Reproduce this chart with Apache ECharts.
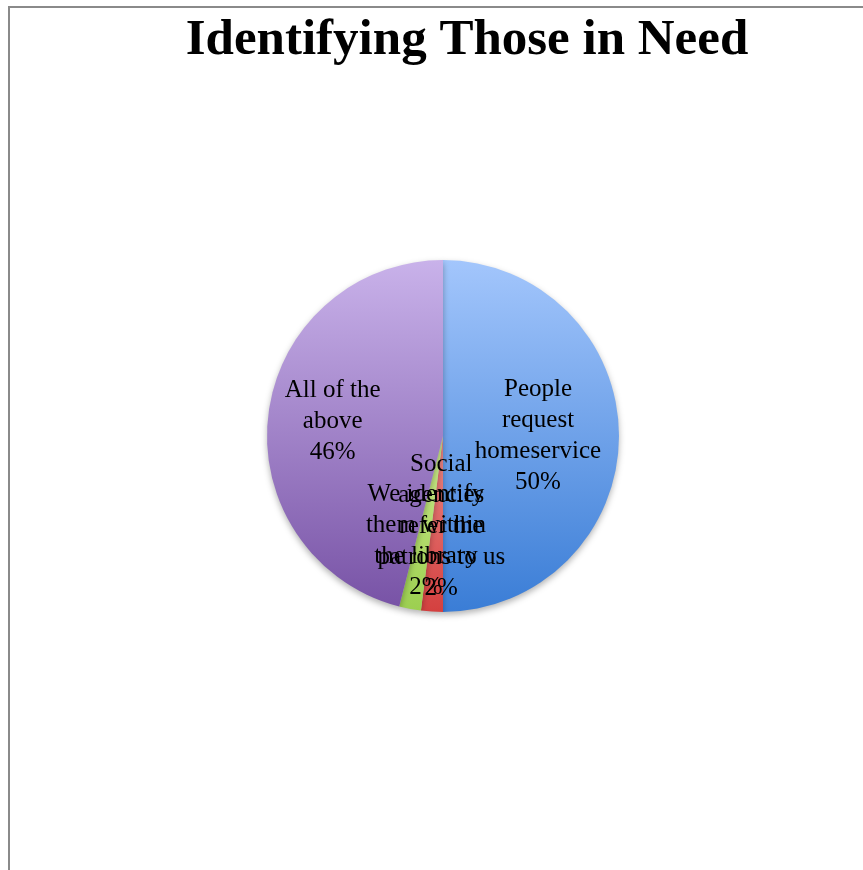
<!DOCTYPE html>
<html>
<head>
	<meta charset="utf-8">
	<script src="https://cdn.jsdelivr.net/npm/echarts@6/dist/echarts.min.js"></script>
	<style>
		body { margin: 0; background: #fff; }
	</style>
</head>
<body>
	<div id="main" style="width: 863px; height: 870px;"></div>
<script type="text/javascript">
        var categories = ['People request homeservice', 'Social agencies refer the patrons to us', 'We identify them within the library', 'All of the above'];
        var labels = ['People\nrequest\nhomeservice', 'Social\nagencies\nrefer the\npatrons to us', 'We identify\nthem within\nthe library', 'All of the\nabove'];
        var values = [50, 2, 2, 46];
        var colors = [
            ['#a3c6fc', '#3a7dd6'],
            ['#ec8a88', '#d4403f'],
            ['#cdeb8e', '#9ccf50'],
            ['#c9b2ea', '#7853a6']
        ];
        var offsets = [[4, 0], [4, 0], [0, 16], [-20, -3]];

        var myChart = echarts.init(document.getElementById('main'));

        var data = [];
        for (var i = 0; i < values.length; i++) {
            data.push({
                name: categories[i],
                value: values[i],
                label: { offset: offsets[i], formatter: labels[i] + '\n{d}%' },
                itemStyle: {
                    color: new echarts.graphic.LinearGradient(0, 0, 0, 1, [
                        { offset: 0, color: colors[i][0] },
                        { offset: 1, color: colors[i][1] }
                    ])
                }
            });
        }

        var option = {
            backgroundColor: '#fff',
            animation: false,
            title: {
                text: 'Identifying Those in Need',
                left: 462,
                textAlign: 'center',
                top: 10,
                textStyle: {
                    fontFamily: 'Liberation Serif',
                    fontWeight: 'bold',
                    fontSize: 51,
                    color: '#000'
                }
            },
            graphic: [{
                type: 'polyline',
                shape: { points: [[9, 870], [9, 7], [863, 7]] },
                style: { stroke: '#8a8a8a', lineWidth: 2, fill: null }
            }],
            series: [{
                type: 'pie',
                center: [443, 436],
                radius: [0, 176],
                startAngle: 90,
                clockwise: true,
                avoidLabelOverlap: false,
                labelLayout: { hideOverlap: false },
                data: data,
                label: {
                    position: 'inside',
                    fontFamily: 'Liberation Serif',
                    fontSize: 25,
                    lineHeight: 31,
                    color: '#000',
                    align: 'center'
                },
                labelLine: { show: false },
                itemStyle: {
                    shadowBlur: 6,
                    shadowColor: 'rgba(0,0,0,0.3)',
                    shadowOffsetY: 3
                },
                emphasis: { disabled: true }
            }]
        };

        myChart.setOption(option);
    </script>
</body>
</html>
